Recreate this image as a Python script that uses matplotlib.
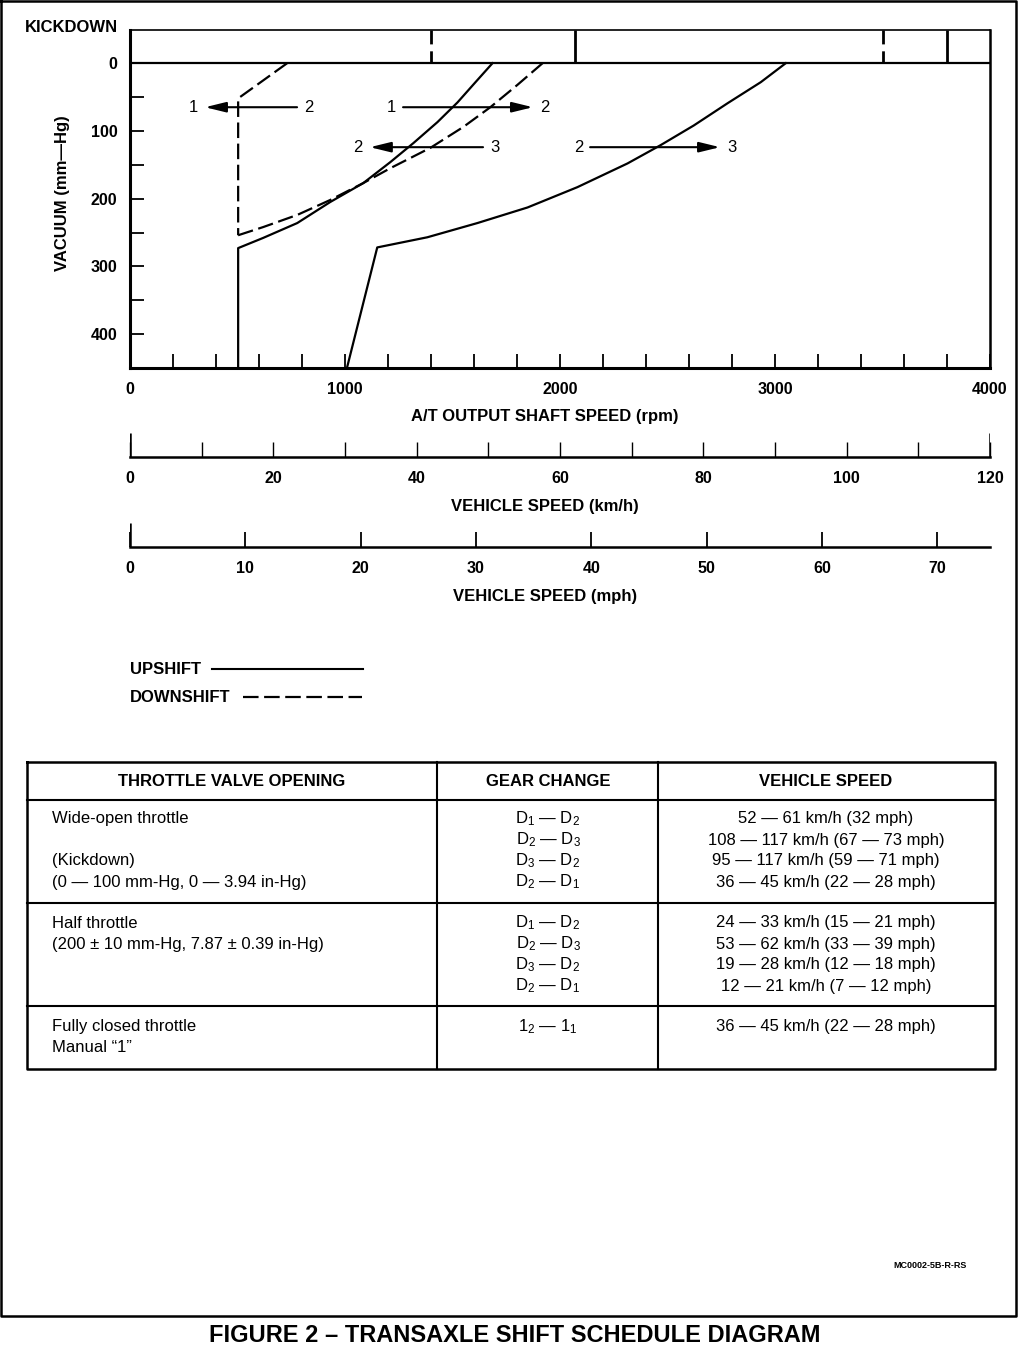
import matplotlib.pyplot as plt

plt.rcParams['font.family'] = ['Liberation Sans', 'DejaVu Sans']
plt.rcParams['mathtext.fontset'] = 'custom'
plt.rcParams['mathtext.rm'] = 'Liberation Sans'
plt.rcParams['mathtext.it'] = 'Liberation Sans:italic'
plt.rcParams['mathtext.bf'] = 'Liberation Sans:bold'

# shift lines (rpm, vacuum mm-Hg)
up12_rpm = [503, 503, 619, 778, 931, 1085, 1211, 1318, 1430, 1523, 1607, 1686]
up12_vac = [450, 273, 258, 236, 205, 177, 146, 118, 87, 58, 28, 0]
up23_rpm = [1009, 1150, 1383, 1616, 1849, 2081, 2314, 2468, 2622, 2780, 2934, 3050]
up23_vac = [450, 272, 257, 236, 213, 183, 148, 121, 92, 59, 28, 0]
down21_rpm = [731, 503, 503]
down21_vac = [0, 52, 254]
down32_rpm = [503, 619, 778, 931, 1085, 1211, 1397, 1551, 1676, 1802, 1919]
down32_vac = [254, 242, 224, 202, 177, 155, 125, 94, 65, 32, 0]

# kickdown shift points
kd_up_rpm = [2070, 3800]
kd_down_rpm = [1400, 3500]

# direction arrows: vacuum level, tail rpm, tip rpm, tail label, tip label
arrow_vac = [65, 65, 124, 124]
arrow_tail = [777, 1270, 1642, 2140]
arrow_tip = [349, 1874, 1116, 2744]
arrow_from = ['2', '1', '3', '2']
arrow_to = ['1', '2', '2', '3']

rpm_ticks = [0, 1000, 2000, 3000, 4000]
vac_ticks = [0, 100, 200, 300, 400]
kmh_ticks = [0, 20, 40, 60, 80, 100, 120]
mph_ticks = [0, 10, 20, 30, 40, 50, 60, 70]

table_header = ['THROTTLE VALVE OPENING', 'GEAR CHANGE', 'VEHICLE SPEED']
throttle_text = [
    ['Wide-open throttle', '', '(Kickdown)', '(0 — 100 mm-Hg, 0 — 3.94 in-Hg)'],
    ['Half throttle', '(200 ± 10 mm-Hg, 7.87 ± 0.39 in-Hg)'],
    ['Fully closed throttle', 'Manual “1”'],
]
gear_text = [
    ['D$_\\mathrm{1}$ — D$_\\mathrm{2}$', 'D$_\\mathrm{2}$ — D$_\\mathrm{3}$',
     'D$_\\mathrm{3}$ — D$_\\mathrm{2}$', 'D$_\\mathrm{2}$ — D$_\\mathrm{1}$'],
    ['D$_\\mathrm{1}$ — D$_\\mathrm{2}$', 'D$_\\mathrm{2}$ — D$_\\mathrm{3}$',
     'D$_\\mathrm{3}$ — D$_\\mathrm{2}$', 'D$_\\mathrm{2}$ — D$_\\mathrm{1}$'],
    ['1$_\\mathrm{2}$ — 1$_\\mathrm{1}$'],
]
speed_text = [
    ['52 — 61 km/h (32 mph)', '108 — 117 km/h (67 — 73 mph)',
     '95 — 117 km/h (59 — 71 mph)', '36 — 45 km/h (22 — 28 mph)'],
    ['24 — 33 km/h (15 — 21 mph)', '53 — 62 km/h (33 — 39 mph)',
     '19 — 28 km/h (12 — 18 mph)', '12 — 21 km/h (7 — 12 mph)'],
    ['36 — 45 km/h (22 — 28 mph)'],
]

W, H = 1024, 1360
fig = plt.figure(figsize=(W / 100, H / 100), dpi=100)


def rect(x0, y0, x1, y1):
    return [x0 / W, 1 - y1 / H, (x1 - x0) / W, (y1 - y0) / H]


DASH = (0, (7, 2.5))

# overlay in pixel coords for frame, titles, legend and table
ov = fig.add_axes([0, 0, 1, 1])
ov.set_xlim(0, W)
ov.set_ylim(H, 0)
ov.axis('off')
ov.patch.set_alpha(0)

# ---- main chart
ax = fig.add_axes(rect(130, 30, 990, 368))
ax.set_xlim(0, 4000)
ax.set_ylim(450, -49)
ax.plot(up12_rpm, up12_vac, color='black', lw=1.6)
ax.plot(up23_rpm, up23_vac, color='black', lw=1.6)
ax.plot(down21_rpm, down21_vac, color='black', lw=1.6, linestyle=DASH)
ax.plot(down32_rpm, down32_vac, color='black', lw=1.6, linestyle=DASH)
ax.axhline(0, color='black', lw=1.6)
ax.vlines(kd_up_rpm, -49, 0, color='black', lw=2)
ax.vlines(kd_down_rpm, -49, 0, color='black', lw=2, linestyles=[(0, (5, 2.5))])

for v, t0, t1, a, b in zip(arrow_vac, arrow_tail, arrow_tip, arrow_from, arrow_to):
    ax.annotate('', xy=(t1, v), xytext=(t0, v),
                arrowprops=dict(arrowstyle='-|>,head_length=0.9,head_width=0.22',
                                mutation_scale=14, lw=1.5, color='black',
                                shrinkA=0, shrinkB=0))
    side = 1 if t0 > t1 else -1
    ax.annotate(a, (t0, v), xytext=(side * 5, 0), textcoords='offset points',
                ha='left' if side > 0 else 'right', va='center', fontsize=12)
    ax.annotate(b, (t1, v), xytext=(-side * 5, 0), textcoords='offset points',
                ha='right' if side > 0 else 'left', va='center', fontsize=12)

ax.set_xticks(rpm_ticks)
ax.set_xticks(range(200, 4000, 200), minor=True)
ax.set_yticks(vac_ticks)
ax.set_yticks([50, 150, 250, 350], minor=True)
ax.set_xticklabels([str(t) for t in rpm_ticks], fontweight='bold', fontsize=11.5)
ax.set_yticklabels([str(t) for t in vac_ticks], fontweight='bold', fontsize=11.5)
ax.tick_params(which='both', direction='in', length=10, width=1.3)
ax.tick_params(axis='x', which='major', pad=10)
ax.tick_params(axis='y', which='major', pad=9)
ax.spines['left'].set_linewidth(2.2)
ax.spines['bottom'].set_linewidth(2.2)
ax.spines['top'].set_linewidth(1.2)
ax.spines['right'].set_linewidth(1.8)

# ---- km/h scale
ak = fig.add_axes(rect(130, 433, 990, 457))
ak.set_xlim(0, 120)
ak.set_ylim(0, 1)
ak.set_xticks(kmh_ticks)
ak.set_xticks(range(10, 120, 20), minor=True)
ak.set_xticklabels([str(t) for t in kmh_ticks], fontweight='bold', fontsize=11.5)
ak.set_yticks([])
ak.tick_params(which='both', direction='in', length=11, width=1.0, pad=10)
ak.vlines([0, 120], 0, 1, color='black', lw=1.8)
for s in ['top', 'left', 'right']:
    ak.spines[s].set_visible(False)
ak.spines['bottom'].set_linewidth(1.8)
ak.patch.set_alpha(0)

# ---- mph scale
am = fig.add_axes(rect(130, 523, 990, 547))
am.set_xlim(0, 120 / 1.609344)
am.set_ylim(0, 1)
am.set_xticks(mph_ticks)
am.set_xticklabels([str(t) for t in mph_ticks], fontweight='bold', fontsize=11.5)
am.set_yticks([])
am.tick_params(which='both', direction='in', length=11, width=1.3, pad=10)
am.vlines([0], 0, 1, color='black', lw=1.8)
for s in ['top', 'left', 'right']:
    am.spines[s].set_visible(False)
am.spines['bottom'].set_linewidth(1.8)
am.patch.set_alpha(0)

# ---- labels
bold = dict(fontweight='bold', fontsize=12)
ov.text(118, 27, 'KICKDOWN', ha='right', va='center', **bold)
ov.text(62, 193, 'VACUUM (mm—Hg)', rotation=90, ha='center', va='center', **bold)
ov.text(545, 417, 'A/T OUTPUT SHAFT SPEED (rpm)', ha='center', va='center', **bold)
ov.text(545, 506, 'VEHICLE SPEED (km/h)', ha='center', va='center', **bold)
ov.text(545, 596, 'VEHICLE SPEED (mph)', ha='center', va='center', **bold)

# legend
ov.text(130, 669, 'UPSHIFT', ha='left', va='center', **bold)
ov.text(130, 697, 'DOWNSHIFT', ha='left', va='center', **bold)
ov.plot([212, 363], [669, 669], color='black', lw=1.5)
ov.plot([243, 362], [697, 697], color='black', lw=1.6, linestyle=DASH)

# ---- table
tx0, tx1 = 27, 995
ty0, ty1 = 762, 1069
col_x = [437, 658]
row_y = [800, 903, 1006]
ov.plot([tx0, tx1, tx1, tx0, tx0], [ty0, ty0, ty1, ty1, ty0], color='black', lw=1.8)
for x in col_x:
    ov.plot([x, x], [ty0, ty1], color='black', lw=1.5)
for y in row_y:
    ov.plot([tx0, tx1], [y, y], color='black', lw=1.5)

ov.text(232, 781, table_header[0], ha='center', va='center', **bold)
ov.text(548, 781, table_header[1], ha='center', va='center', **bold)
ov.text(826, 781, table_header[2], ha='center', va='center', **bold)

row_start = [819, 923, 1027]
for r in range(3):
    for i, s in enumerate(throttle_text[r]):
        ov.text(52, row_start[r] + 21 * i, s, ha='left', va='center', fontsize=12)
    for i, s in enumerate(gear_text[r]):
        ov.text(548, row_start[r] + 21 * i, s, ha='center', va='center', fontsize=12)
    for i, s in enumerate(speed_text[r]):
        ov.text(826, row_start[r] + 21 * i, s, ha='center', va='center', fontsize=12)

ov.text(967, 1265, 'MC0002-5B-R-RS', ha='right', va='center', fontweight='bold', fontsize=6.5)

# page frame and caption
ov.plot([1, 1016, 1016, 1, 1], [1, 1, 1316, 1316, 1], color='black', lw=1.8)
ov.text(515, 1335, 'FIGURE 2 – TRANSAXLE SHIFT SCHEDULE DIAGRAM', ha='center',
        va='center', fontweight='bold', fontsize=17)

fig.savefig('out.png', dpi=100)
